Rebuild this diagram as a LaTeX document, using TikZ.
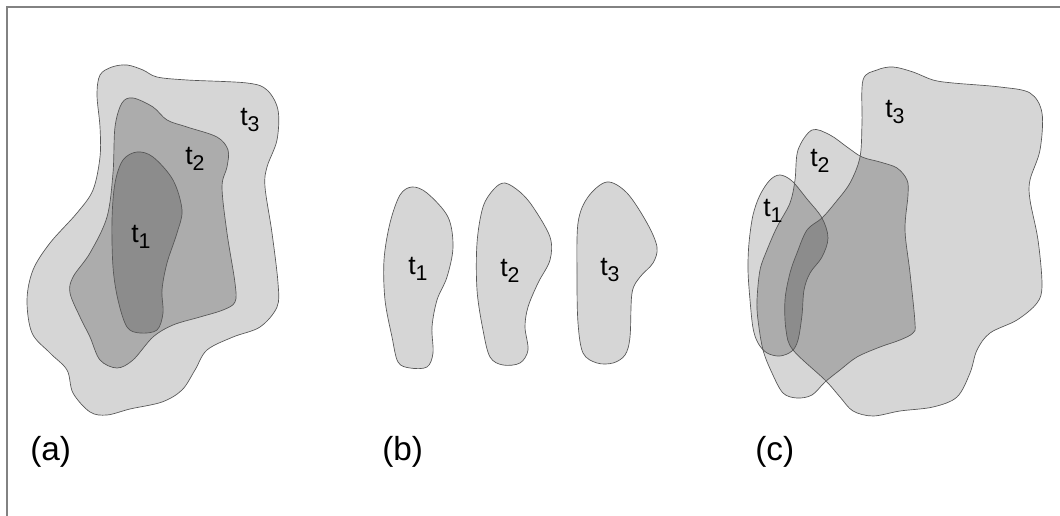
\documentclass[tikz,border=0pt]{standalone}
\usepackage{fontspec}
\setmainfont{Liberation Sans}
\definecolor{lightg}{RGB}{214,214,214}
\definecolor{midg}{RGB}{172,172,172}
\definecolor{darkg}{RGB}{140,140,140}
\definecolor{outl}{RGB}{85,85,85}
\definecolor{framec}{RGB}{130,130,130}
\newcommand\tsb[1]{\raisebox{-4.5pt}{\fontsize{16}{16}\selectfont #1}}
\tikzset{
  blob/.style={draw=outl, line width=0.5pt, line join=round},
  lbl/.style={inner sep=0pt, anchor=base west, font=\fontsize{20}{20}\selectfont, text=black},
  figlbl/.style={inner sep=0pt, anchor=base west, font=\fontsize{25}{25}\selectfont, text=black},
  frameline/.style={draw=framec, line width=1pt},
}
% (a)
\def\pAthree{plot[smooth cycle, tension=0.55] coordinates {(100,75) (112,67) (127,65) (143,70) (157,77) (187,80) (247,83) (267,90) (278,110) (277,140) (267,167) (265,187) (272,233) (278,283) (277,307) (260,327) (233,337) (207,350) (195,370) (182,390) (162,402) (130,409) (107,415) (90,412) (73,393) (67,370) (50,353) (32,333) (27,300) (33,270) (50,243) (77,213) (93,190) (100,157) (100,127) (97,95)}}
\def\pAtwo{plot[smooth cycle, tension=0.55] coordinates {(133,98) (153,107) (167,120) (187,127) (217,137) (228,150) (227,167) (222,187) (227,233) (235,283) (235,302) (223,310) (200,317) (173,325) (153,337) (133,360) (117,368) (100,360) (90,337) (80,317) (70,293) (73,277) (90,253) (107,217) (113,173) (115,127) (122,103)}}
\def\pAone{plot[smooth cycle, tension=0.55] coordinates {(137,152) (153,157) (173,180) (182,210) (177,233) (167,263) (162,290) (163,313) (157,330) (140,333) (127,327) (118,300) (113,267) (112,220) (115,183) (123,160)}}
% (b)
\def\pBone{plot[smooth cycle, tension=0.55] coordinates {(412,187) (427,193) (448,217) (453,247) (447,277) (437,300) (432,327) (433,353) (427,367) (410,368) (398,362) (392,337) (385,300) (384,260) (390,223) (400,195)}}
\def\pBtwo{plot[smooth cycle, tension=0.55] coordinates {(505,183) (520,192) (533,207) (550,237) (550,260) (538,283) (528,307) (525,327) (528,350) (520,363) (503,365) (490,357) (483,330) (477,290) (477,243) (483,207) (494,189)}}
\def\pBthree{plot[smooth cycle, tension=0.55] coordinates {(607,182) (627,193) (647,223) (657,247) (653,263) (640,277) (632,293) (630,337) (625,355) (613,363) (597,363) (583,353) (578,323) (577,277) (578,223) (588,197)}}
% (c)
\def\pCthree{plot[smooth cycle, tension=0.55] coordinates {(863,80) (877,70) (893,67) (913,72) (933,80) (953,83) (1000,87) (1030,93) (1042,113) (1040,150) (1030,180) (1030,200) (1038,240) (1042,285) (1037,303) (1017,320) (990,333) (977,350) (970,373) (957,397) (933,407) (900,411) (873,416) (853,411) (840,397) (825,380) (793,350) (786,330) (785,300) (790,273) (797,253) (807,230) (822,218) (835,203) (850,183) (860,157) (862,123)}}
\def\pCtwo{plot[smooth cycle, tension=0.55] coordinates {(812,130) (830,135) (847,147) (862,157) (880,162) (897,168) (907,180) (908,195) (905,230) (910,273) (915,323) (913,333) (900,340) (880,347) (857,357) (840,370) (825,382) (812,395) (797,398) (783,393) (772,373) (763,350) (758,320) (757,300) (760,270) (767,250) (777,227) (790,203) (795,180) (798,150)}}
\def\pCone{plot[smooth cycle, tension=0.55] coordinates {(780,175) (792,181) (807,199) (822,218) (828,238) (822,257) (810,273) (804,290) (802,315) (798,340) (792,351) (780,356) (767,353) (758,343) (753,328) (750,300) (748,270) (749,243) (753,215) (760,195) (770,180)}}
\begin{document}
\begin{tikzpicture}[x=0.75pt,y=-0.75pt]
\useasboundingbox (0,0) rectangle (1060,516);
\fill[white] (0,0) rectangle (1060,516);
\draw[frameline] (7,516) -- (7,7) -- (1060,7);
% (a)
\filldraw[blob, fill=lightg] \pAthree;
\filldraw[blob, fill=midg] \pAtwo;
\filldraw[blob, fill=darkg] \pAone;
\node[lbl] (a3) at (240,126) {t\tsb{3}};
\node[lbl] (a2) at (185,165) {t\tsb{2}};
\node[lbl] (a1) at (131,243) {t\tsb{1}};
\node[figlbl] (capa) at (30,460) {(a)};
% (b)
\filldraw[blob, fill=lightg] \pBone;
\filldraw[blob, fill=lightg] \pBtwo;
\filldraw[blob, fill=lightg] \pBthree;
\node[lbl] (b1) at (408,275) {t\tsb{1}};
\node[lbl] (b2) at (500,277) {t\tsb{2}};
\node[lbl] (b3) at (600,276) {t\tsb{3}};
\node[figlbl] (capb) at (382,460) {(b)};
% (c)
\fill[lightg] \pCthree;
\fill[lightg] \pCtwo;
\fill[lightg] \pCone;
\begin{scope}
  \clip \pCtwo;
  \fill[midg] \pCthree;
  \fill[midg] \pCone;
\end{scope}
\begin{scope}
  \clip \pCtwo;
  \clip \pCthree;
  \fill[darkg] \pCone;
\end{scope}
\draw[blob] \pCthree;
\draw[blob] \pCtwo;
\draw[blob] \pCone;
\node[lbl] (c3) at (885,118) {t\tsb{3}};
\node[lbl] (c2) at (810,167) {t\tsb{2}};
\node[lbl] (c1) at (763,217) {t\tsb{1}};
\node[figlbl] (capc) at (755,460) {(c)};
\end{tikzpicture}
\end{document}
